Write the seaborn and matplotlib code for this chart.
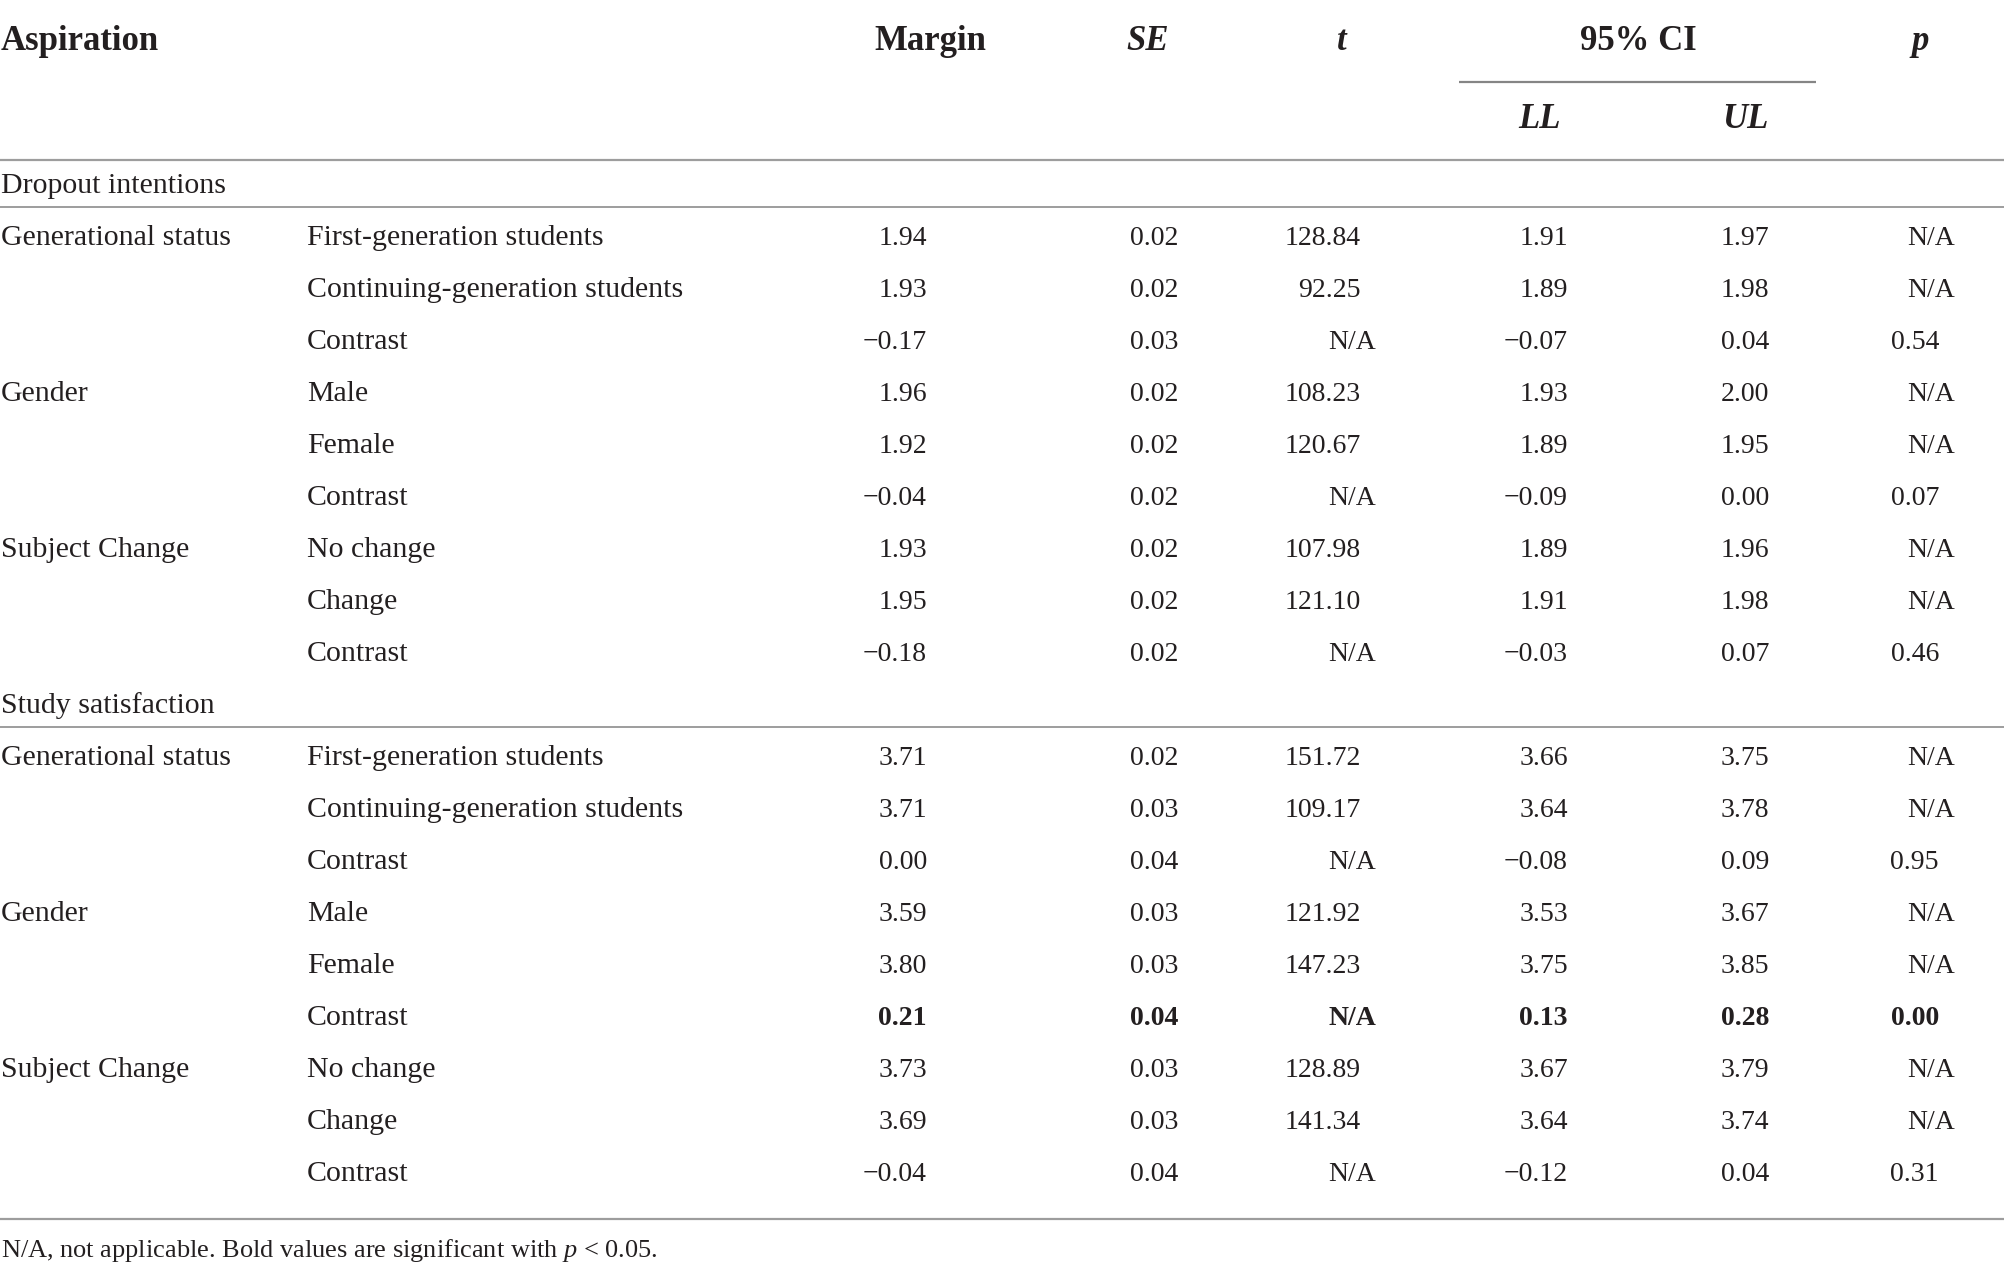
import matplotlib
matplotlib.use("Agg")
import matplotlib.pyplot as plt
import seaborn as sns

# table content
sections = ["Dropout intentions", "Study satisfaction"]
factors = ["Generational status", "Gender", "Subject Change"]
levels = {
    "Generational status": ["First-generation students", "Continuing-generation students", "Contrast"],
    "Gender": ["Male", "Female", "Contrast"],
    "Subject Change": ["No change", "Change", "Contrast"],
}
col_heads = ["Margin", "SE", "t", "LL", "UL", "p"]

# values per section, 9 rows each (None = N/A)
margin = [1.94, 1.93, -0.17, 1.96, 1.92, -0.04, 1.93, 1.95, -0.18,
          3.71, 3.71, 0.00, 3.59, 3.80, 0.21, 3.73, 3.69, -0.04]
se = [0.02, 0.02, 0.03, 0.02, 0.02, 0.02, 0.02, 0.02, 0.02,
      0.02, 0.03, 0.04, 0.03, 0.03, 0.04, 0.03, 0.03, 0.04]
t_val = [128.84, 92.25, None, 108.23, 120.67, None, 107.98, 121.10, None,
         151.72, 109.17, None, 121.92, 147.23, None, 128.89, 141.34, None]
ll = [1.91, 1.89, -0.07, 1.93, 1.89, -0.09, 1.89, 1.91, -0.03,
      3.66, 3.64, -0.08, 3.53, 3.75, 0.13, 3.67, 3.64, -0.12]
ul = [1.97, 1.98, 0.04, 2.00, 1.95, 0.00, 1.96, 1.98, 0.07,
      3.75, 3.78, 0.09, 3.67, 3.85, 0.28, 3.79, 3.74, 0.04]
p_val = [None, None, 0.54, None, None, 0.07, None, None, 0.46,
         None, None, 0.95, None, None, 0.00, None, None, 0.31]

footnote = "N/A, not applicable. Bold values are significant with $p$ < 0.05."

sns.set_theme(style="white")
plt.rcParams['font.family'] = ['Liberation Serif', 'DejaVu Serif']
plt.rcParams['mathtext.fontset'] = 'custom'
plt.rcParams['mathtext.rm'] = 'Liberation Serif'
plt.rcParams['mathtext.it'] = 'Liberation Serif:italic'

ink = '#231f20'
rule = '#9d9d9d'
fs_lab = 21.5   # row labels
fs_num = 20     # numbers
fs_head = 25    # column heads


def fmt(v):
    if v is None:
        return "N/A"
    return f"{v:.2f}".replace("-", "\u2212")


fig = plt.figure(figsize=(20.04, 12.72), dpi=100)
ax = fig.add_axes([0, 0, 1, 1])
ax.set_xlim(0, 2004)
ax.set_ylim(1272, 0)
ax.axis('off')

# column anchors (right edges for numbers, right edges for N/A)
num_right = [927, 1178, 1361, 1568, 1769, 1939]
na_right = [927, 1178, 1376, 1568, 1769, 1955]
head_x = [930, 1148, 1342, 1540, 1745, 1920]
base = 8  # baseline offset from row centre

# header
ax.text(1, 41 + 9, "Aspiration", fontsize=fs_head, fontweight='bold', color=ink, va='baseline')
for i, h in enumerate(col_heads):
    if h in ("LL", "UL"):
        continue
    style = 'normal' if h == "Margin" else 'italic'
    ax.text(head_x[i], 41 + 9, h, fontsize=fs_head, fontweight='bold', style=style,
            color=ink, ha='center', va='baseline')
ax.text(1638, 41 + 9, "95% CI", fontsize=fs_head, fontweight='bold', color=ink,
        ha='center', va='baseline')
ax.hlines(82, 1459, 1816, color='#858585', lw=1.6)
for i in (3, 4):
    ax.text(head_x[i], 119 + 9, col_heads[i], fontsize=fs_head, fontweight='bold',
            style='italic', color=ink, ha='center', va='baseline')
ax.hlines(160, 0, 2004, color=rule, lw=1.6)

cols = [margin, se, t_val, ll, ul, p_val]
pitch = 52
y = 185
k = 0
for s in sections:
    ax.text(1, y + base, s, fontsize=fs_lab, color=ink, va='baseline')
    ax.hlines(y + 22, 0, 2004, color=rule, lw=1.4)
    y += pitch
    for f in factors:
        for j, lev in enumerate(levels[f]):
            bold = p_val[k] is not None and p_val[k] < 0.05
            w = 'bold' if bold else 'normal'
            if j == 0:
                ax.text(1, y + base, f, fontsize=fs_lab, color=ink, va='baseline')
            ax.text(307, y + base, lev, fontsize=fs_lab, color=ink, va='baseline')
            for c, vals in enumerate(cols):
                v = vals[k]
                xr = na_right[c] if v is None else num_right[c]
                ax.text(xr, y + base, fmt(v), fontsize=fs_num, color=ink, fontweight=w,
                        ha='right', va='baseline')
            y += pitch
            k += 1

ax.hlines(1219, 0, 2004, color=rule, lw=1.6)
ax.text(1, 1249 + base, footnote, fontsize=19, color=ink, va='baseline')

fig.savefig("out.png", dpi=100, facecolor='white')
